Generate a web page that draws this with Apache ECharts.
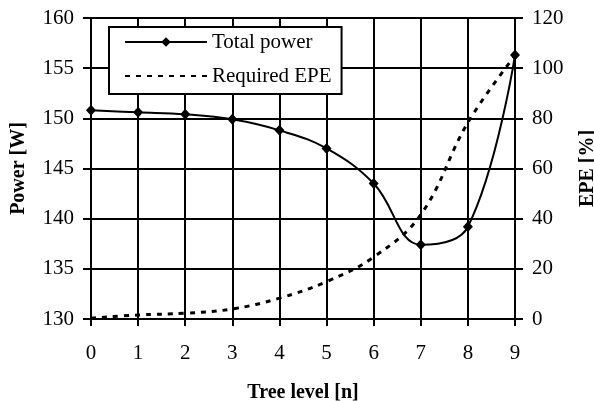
<!DOCTYPE html>
<html>
<head>
<meta charset="utf-8">
<script src="https://cdn.jsdelivr.net/npm/echarts@6/dist/echarts.min.js"></script>
<style>html,body{margin:0;padding:0;background:#fff;}#c{width:594px;height:401px;}</style>
</head>
<body>
<div id="c"></div>
<script>
const treeLevels = ['0','1','2','3','4','5','6','7','8','9'];
const totalPower = [150.8, 150.6, 150.4, 149.9, 148.8, 147.0, 143.5, 137.4, 139.2, 156.3];
const requiredEPE = [0.3, 1.6, 2.3, 4.0, 8.3, 14.9, 24.7, 41.6, 78.3, 105];
const powerTicks = {min: 130, max: 160, step: 5};
const epeTicks = {min: 0, max: 120, step: 20};

const font = 'Liberation Serif';
const chart = echarts.init(document.getElementById('c'));
chart.setOption({
  animation: false,
  backgroundColor: '#fff',
  textStyle: {fontFamily: font, color: '#000'},
  grid: {left: 91, right: 79, top: 18, bottom: 82, containLabel: false, outerBoundsMode: 'none'},
  legend: {
    orient: 'vertical', left: 109, top: 27,
    padding: [4, 10, 7, 15],
    itemWidth: 82, itemHeight: 12, itemGap: 12,
    borderColor: '#000', borderWidth: 2, backgroundColor: '#fff',
    textStyle: {fontFamily: font, fontSize: 21, color: '#000', lineHeight: 22},
    data: ['Total power', {name: 'Required EPE', itemStyle: {color: 'rgba(0,0,0,0)', borderColor: 'rgba(0,0,0,0)', borderWidth: 0}}]
  },
  xAxis: {
    type: 'category', data: treeLevels, boundaryGap: false,
    name: 'Tree level [n]', nameLocation: 'middle', nameGap: 64,
    nameTextStyle: {fontFamily: font, fontSize: 20, fontWeight: 'bold', color: '#000'},
    axisLine: {lineStyle: {color: '#000', width: 2}},
    axisTick: {show: true, inside: false, length: 7, interval: 0, lineStyle: {color: '#000', width: 2}},
    axisLabel: {fontFamily: font, fontSize: 21, color: '#000', margin: 24, interval: 0},
    splitLine: {show: true, interval: 0, lineStyle: {color: '#000', width: 2}}
  },
  yAxis: [{
    type: 'value', min: powerTicks.min, max: powerTicks.max, interval: powerTicks.step,
    name: 'Power [W]', nameLocation: 'middle', nameGap: 62, nameRotate: 90,
    nameTextStyle: {fontFamily: font, fontSize: 20, fontWeight: 'bold', color: '#000'},
    axisLine: {show: true, lineStyle: {color: '#000', width: 2}},
    axisTick: {show: true, inside: false, length: 8, lineStyle: {color: '#000', width: 2}},
    axisLabel: {fontFamily: font, fontSize: 21, color: '#000', margin: 17},
    splitLine: {show: true, lineStyle: {color: '#000', width: 2}}
  }, {
    type: 'value', min: epeTicks.min, max: epeTicks.max, interval: epeTicks.step, position: 'right',
    name: 'EPE [%]', nameLocation: 'middle', nameGap: 63, nameRotate: 90,
    nameTextStyle: {fontFamily: font, fontSize: 20, fontWeight: 'bold', color: '#000'},
    axisLine: {show: true, lineStyle: {color: '#000', width: 2}},
    axisTick: {show: true, inside: false, length: 8, lineStyle: {color: '#000', width: 2}},
    axisLabel: {fontFamily: font, fontSize: 21, color: '#000', margin: 17},
    splitLine: {show: false}
  }],
  series: [{
    name: 'Total power', type: 'line', yAxisIndex: 0, data: totalPower,
    smooth: 0.4, symbol: 'diamond', symbolSize: [10, 11], showSymbol: true,
    itemStyle: {color: '#000'}, lineStyle: {color: '#000', width: 2}, z: 5
  }, {
    name: 'Required EPE', type: 'line', yAxisIndex: 1, data: requiredEPE,
    smooth: 0.4, symbol: 'none',
    itemStyle: {color: '#000'}, lineStyle: {color: '#000', width: 3, type: [5, 6]}, z: 4
  }]
});
</script>
</body>
</html>
